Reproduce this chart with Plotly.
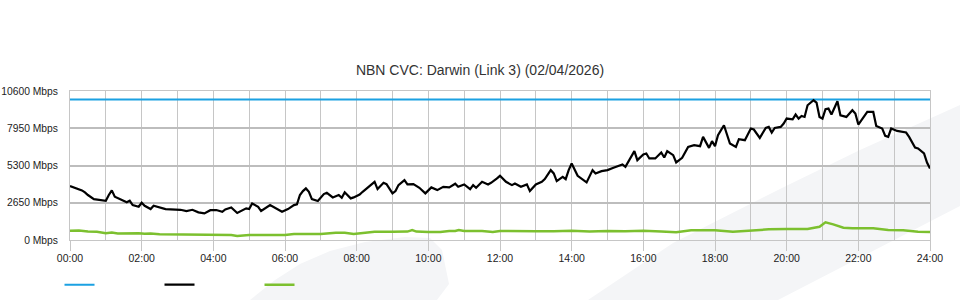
import plotly.graph_objects as go

# ---------------- data ----------------
title_text = "NBN CVC: Darwin (Link 3) (02/04/2026)"

capacity_mbps = 10000

# black series (traffic), time in minutes since 00:00
dl_minutes = [0, 10, 20, 25, 30, 40, 50, 60, 65, 70, 75, 85, 95, 100, 105, 115, 120, 125, 135, 140,
              150, 160, 185, 195, 205, 215, 225, 235, 245, 255, 260, 270, 280, 295, 300, 305, 315, 320,
              335, 345, 355, 365, 375, 380, 385, 390, 395, 400, 405, 415, 425, 430, 440, 450, 455, 460,
              470, 475, 485, 490, 500, 510, 515, 525, 530, 540, 545, 550, 560, 565, 575, 585, 595, 605,
              615, 625, 635, 645, 650, 660, 670, 675, 680, 690, 700, 705, 715, 720, 730, 740, 745, 755,
              765, 770, 780, 790, 795, 805, 810, 815, 825, 830, 835, 840, 850, 860, 865, 875, 880, 890,
              900, 910, 925, 930, 945, 950, 960, 965, 970, 980, 990, 995, 1000, 1010, 1015, 1025, 1035,
              1045, 1055, 1060, 1070, 1075, 1080, 1085, 1095, 1105, 1115, 1120, 1130, 1140, 1145, 1155,
              1165, 1170, 1175, 1180, 1190, 1195, 1200, 1210, 1215, 1220, 1225, 1230, 1235, 1245, 1250,
              1255, 1260, 1265, 1270, 1275, 1285, 1290, 1300, 1310, 1315, 1320, 1325, 1335, 1345, 1350,
              1360, 1365, 1370, 1375, 1385, 1395, 1400, 1405, 1410, 1415, 1420, 1430, 1435, 1440]
dl_mbps = [3834, 3670, 3530, 3390, 3200, 2910, 2840, 2790, 3200, 3530, 3075, 2890, 2680, 2790, 2485,
           2365, 2650, 2435, 2200, 2435, 2290, 2200, 2150, 2060, 2150, 1965, 1895, 2120, 2130, 2010,
           2180, 2320, 1920, 2250, 2200, 2600, 2365, 2060, 2485, 2250, 2010, 2200, 2485, 2535, 3200,
           3480, 3670, 3430, 2910, 2770, 3265, 3360, 3030, 3200, 3000, 3390, 2960, 3030, 3240, 3430,
           3785, 4140, 3620, 4070, 3975, 3315, 3480, 3905, 4260, 3955, 3975, 3715, 3315, 3740, 3550,
           3785, 3740, 4000, 3785, 3955, 3620, 3905, 3715, 4140, 3955, 4070, 4380, 4565, 4140, 3905,
           4025, 3785, 3955, 3480, 3955, 4140, 4330, 4970, 4735, 4190, 4495, 4330, 4970, 5445, 4565,
           4260, 4095, 4970, 4735, 4900, 4970, 5135, 5375, 5205, 6320, 5680, 6085, 6155, 5800, 5800,
           6225, 5870, 6320, 6035, 5515, 5845, 6625, 6745, 6675, 7335, 6555, 7030, 6675, 7455, 8165,
           6865, 6625, 7170, 7100, 7930, 7860, 7265, 7975, 8045, 7645, 7975, 8045, 8285, 8640, 8590,
           8925, 8640, 8825, 8755, 9585, 9940, 9775, 8755, 8640, 9300, 9350, 8925, 9870, 8875, 8755,
           9230, 8995, 8215, 8520, 9110, 9110, 8115, 7930, 7405, 7335, 7930, 7760, 7690, 7645, 7335,
           6980, 6580, 6510, 6155, 5515, 5090]

# green series (traffic), time in minutes since 00:00
ul_minutes = [0, 15, 30, 45, 60, 70, 80, 95, 105, 115, 125, 135, 150, 180, 210, 240, 255, 270, 280,
              290, 300, 330, 360, 375, 400, 420, 445, 460, 475, 490, 510, 540, 565, 573, 580, 600, 620,
              635, 645, 651, 660, 690, 708, 720, 750, 780, 810, 840, 870, 900, 930, 960, 990, 1015,
              1040, 1080, 1110, 1140, 1170, 1200, 1235, 1255, 1265, 1278, 1295, 1310, 1345, 1370,
              1395, 1420, 1440]
ul_mbps = [660, 670, 600, 580, 480, 530, 470, 490, 450, 480, 440, 470, 410, 405, 405, 410, 400, 360,
           290, 330, 360, 360, 360, 420, 425, 425, 520, 520, 430, 480, 590, 590, 600, 710, 600, 570,
           570, 640, 640, 710, 640, 640, 570, 640, 610, 630, 620, 650, 600, 640, 620, 660, 600, 545,
           690, 690, 590, 690, 760, 780, 780, 945, 1255, 1115, 875, 830, 830, 710, 690, 590, 570]

y_tick_vals = [0, 2650, 5300, 7950, 10600]
y_tick_text = ["0 Mbps", "2650 Mbps", "5300 Mbps", "7950 Mbps", "10600 Mbps"]
x_tick_vals = [0, 2, 4, 6, 8, 10, 12, 14, 16, 18, 20, 22, 24]
x_tick_text = ["00:00", "02:00", "04:00", "06:00", "08:00", "10:00", "12:00",
               "14:00", "16:00", "18:00", "20:00", "22:00", "24:00"]

# ---------------- figure ----------------
FONT = "Liberation Sans, Arial, sans-serif"

dl_hours = [m / 60 for m in dl_minutes]
ul_hours = [m / 60 for m in ul_minutes]

fig = go.Figure()
fig.add_trace(go.Scatter(x=[0, 24], y=[capacity_mbps, capacity_mbps], mode="lines",
                         line=dict(color="#1ba1e2", width=2), name=""))
fig.add_trace(go.Scatter(x=dl_hours, y=dl_mbps, mode="lines",
                         line=dict(color="#000000", width=2.2), name=""))
fig.add_trace(go.Scatter(x=ul_hours, y=ul_mbps, mode="lines",
                         line=dict(color="#7cc02f", width=2.5), name=""))

# faint background watermark (decorative), in plot-paper units
def px_to_paper(pts):
    return " ".join(("M" if i == 0 else "L") + f"{(x - 70) / 860:.4f},{(240 - y) / 149:.4f}"
                    for i, (x, y) in enumerate(pts)) + " Z"

wm_a = [(250, 300), (275, 280), (300, 264), (330, 251), (365, 242), (405, 237), (430, 238),
        (442, 250), (449, 284), (437, 300)]
wm_b = [(588, 300), (673, 243), (786, 186), (860, 150), (960, 105), (960, 206), (778, 300)]
shapes = []
for pts in (wm_a, wm_b):
    shapes.append(dict(type="path", xref="paper", yref="paper", path=px_to_paper(pts),
                       fillcolor="#f4f5f7", line=dict(width=0), layer="below"))

fig.update_layout(
    width=960, height=300,
    margin=dict(l=70, r=30, t=91, b=60, autoexpand=False),
    paper_bgcolor="white", plot_bgcolor="rgba(0,0,0,0)",
    font=dict(family=FONT, size=10.5, color="#222222"),
    title=dict(text=title_text, x=0.5, xref="container", xanchor="center",
               y=1 - 70 / 300, yref="container", yanchor="middle",
               font=dict(family=FONT, size=14, color="#333333")),
    showlegend=True,
    legend=dict(orientation="h", x=-0.0122, xanchor="left", y=-0.30, yanchor="middle",
                entrywidth=55, entrywidthmode="pixels", font=dict(size=10),
                bgcolor="rgba(0,0,0,0)"),
    shapes=shapes,
    hovermode=False,
)
fig.update_xaxes(range=[0, 24], tickvals=x_tick_vals, ticktext=x_tick_text, automargin=False,
                 showgrid=True, gridcolor="#c6c6c6", gridwidth=1,
                 minor=dict(dtick=1, showgrid=True, gridcolor="#c6c6c6", gridwidth=1),
                 ticks="outside", ticklen=10, tickcolor="#c6c6c6", tickwidth=1,
                 showline=True, linecolor="#c6c6c6", linewidth=1, mirror=True,
                 zeroline=False, ticklabelstandoff=-2, tickfont=dict(size=10.5, color="#222222"))
fig.update_yaxes(range=[0, 10600], tickvals=y_tick_vals, ticktext=y_tick_text, automargin=False,
                 showgrid=True, gridcolor="#bdbdbd", gridwidth=2,
                 ticks="", showline=True, linecolor="#c6c6c6", linewidth=1, mirror=True,
                 zeroline=False, ticklabelstandoff=9, tickfont=dict(size=10.3, color="#222222"))

fig.write_html("out.html")
